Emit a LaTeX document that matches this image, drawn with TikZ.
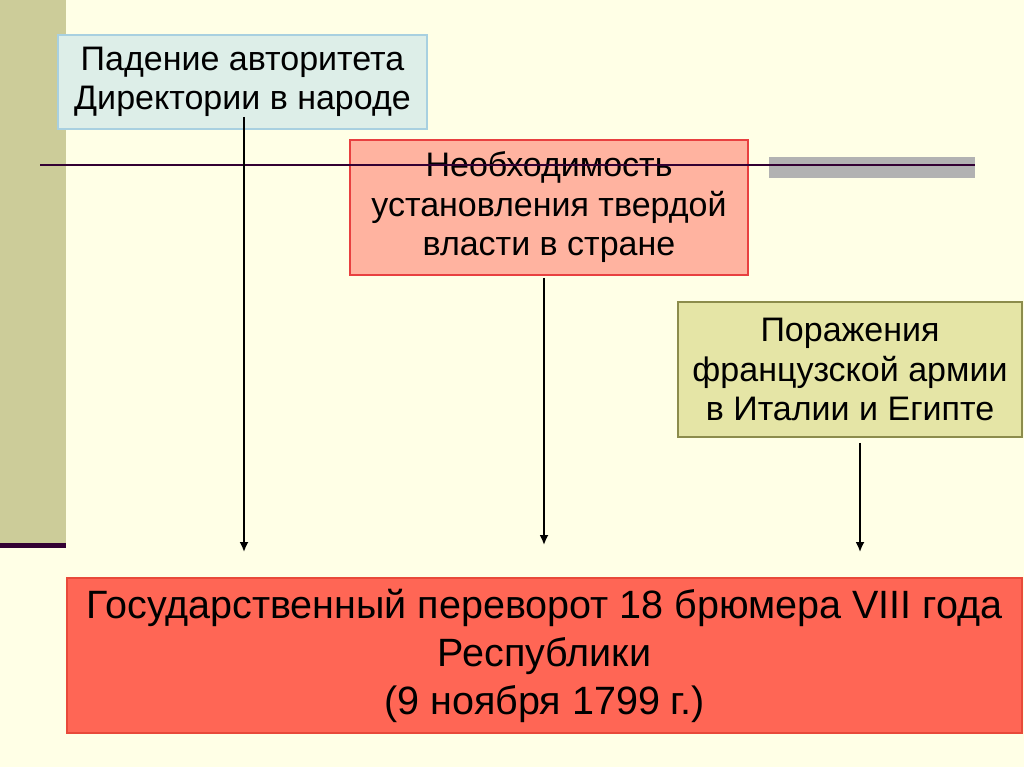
\documentclass[tikz,border=0pt]{standalone}
\usepackage{fontspec}
\setmainfont{Liberation Sans}
\usetikzlibrary{arrows.meta,positioning}
\definecolor{bgcol}{HTML}{FFFFE6}
\definecolor{sidecol}{HTML}{CCCC99}
\definecolor{darkline}{HTML}{330033}
\definecolor{greybar}{HTML}{B2B2B2}
\definecolor{bluefill}{HTML}{DDEEE8}
\definecolor{blueedge}{HTML}{A8D0E0}
\definecolor{pinkfill}{HTML}{FFB3A0}
\definecolor{pinkedge}{HTML}{E84040}
\definecolor{olivefill}{HTML}{E5E5A6}
\definecolor{oliveedge}{HTML}{8C8C4C}
\definecolor{redfill}{HTML}{FF6655}
\definecolor{rededge}{HTML}{E84A3A}

\begin{document}
\begin{tikzpicture}[
    x=1pt, y=-1pt,
    every node/.style={font=\fontsize{34}{39.5}\selectfont, align=center, inner sep=0pt},
    cause/.style={draw, line width=1.5pt, rectangle},
    result/.style={draw, line width=1.5pt, rectangle, font=\fontsize{39.5}{48}\selectfont},
    flow/.style={-{Latex[length=10pt,width=9pt]}, line width=1.8pt}
]
\useasboundingbox (0,0) rectangle (1024,767);
\fill[bgcol] (0,0) rectangle (1024,767);
\fill[sidecol] (0,0) rectangle (66,545);
\fill[darkline] (0,543) rectangle (66,548);
\fill[greybar] (769,157) rectangle (975,178);

\node[cause, fill=bluefill, draw=blueedge, minimum width=369pt, minimum height=94pt] (padenie) at (242.5,82) {Падение авторитета\\Директории в народе};
\node[cause, fill=pinkfill, draw=pinkedge, minimum width=398pt, minimum height=135pt] (neobh) at (549,207.5) {Необходимость\\установления твердой\\власти в стране};
\node[cause, fill=olivefill, draw=oliveedge, minimum width=344pt, minimum height=135pt] (porazh) at (850,369.5) {Поражения\\французской армии\\в Италии и Египте};
\node[result, fill=redfill, draw=rededge, minimum width=955pt, minimum height=155pt] (perevorot) at (544.5,655.5) {Государственный переворот 18 брюмера VIII года\\Республики\\(9 ноября 1799 г.)};

\coordinate (lineL) at (40,165);
\coordinate (lineR) at (975,165);
\draw[darkline, line width=2.5pt] (lineL) -- (lineR);

\coordinate (end1) at (244,552);
\coordinate (end2) at (544,545);
\coordinate (end3) at (860,552);
\draw[flow] ([yshift=-35pt]padenie.center -| end1) -- (end1);
\draw[flow] ([yshift=-2pt]neobh.south -| end2) -- (end2);
\draw[flow] ([yshift=-5pt]porazh.south -| end3) -- (end3);
\end{tikzpicture}
\end{document}
